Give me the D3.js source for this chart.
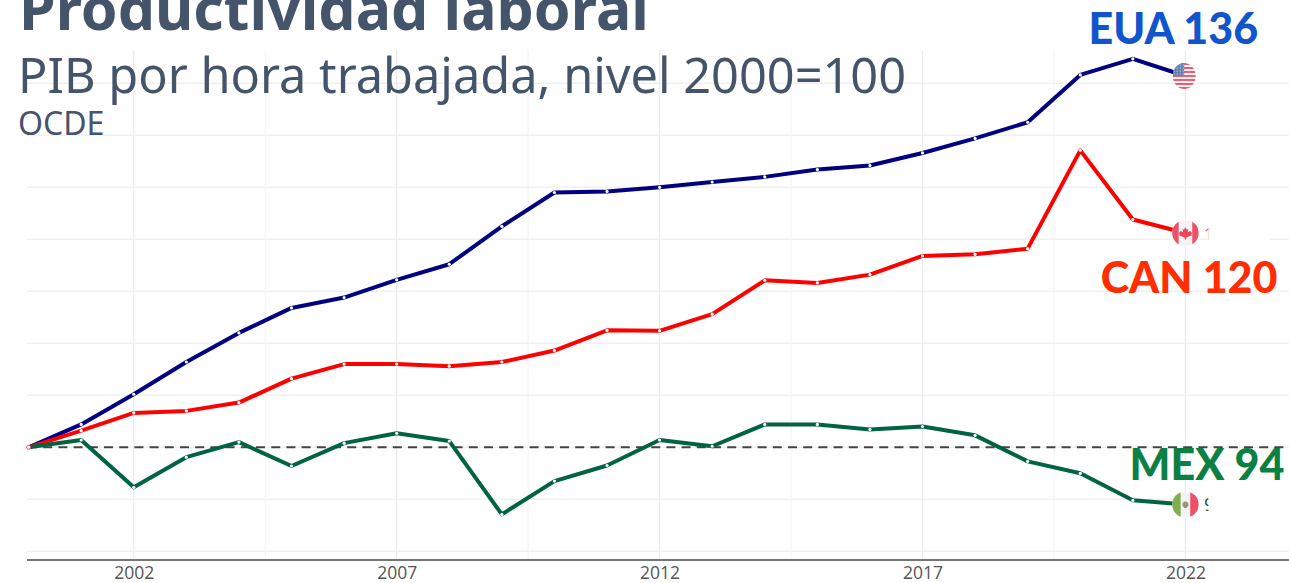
<!DOCTYPE html>
<html>
<head>
<meta charset="utf-8">
<script src="https://cdn.jsdelivr.net/npm/d3@7"></script>
<style>
html, body { margin: 0; padding: 0; background: #fff; overflow: hidden; }
svg { display: block; }
</style>
</head>
<body>
<div id="chart"></div>
<script>
// PIB por hora trabajada, 2000=100
var years = [2000,2001,2002,2003,2004,2005,2006,2007,2008,2009,2010,2011,2012,2013,2014,2015,2016,2017,2018,2019,2020,2021,2022];
var eua = [100,102.2,105.1,108.2,111.0,113.4,114.4,116.1,117.6,121.25,124.5,124.6,125.0,125.5,126.0,126.7,127.1,128.3,129.7,131.25,135.8,137.35,135.7];
var can = [100,101.6,103.3,103.5,104.3,106.6,108.0,108.0,107.8,108.2,109.3,111.25,111.2,112.8,116.05,115.8,116.6,118.4,118.55,119.1,128.55,121.9,120.6];
var mex = [100,100.7,96.15,99.05,100.5,98.2,100.4,101.35,100.6,93.55,96.75,98.25,100.7,100.1,102.2,102.2,101.7,102.0,101.15,98.65,97.5,94.9,94.5];
var xTickYears = [2002,2007,2012,2017,2022];
var xMinorYears = [2004.5,2009.5,2014.5,2019.5];
var yGridValues = [90,95,100,105,110,115,120,125,130,135];

var width = 1289, height = 583;
var svg = d3.select("#chart").append("svg").attr("width", width).attr("height", height);

var x = d3.scaleLinear().domain([2000, 2024]).range([28.6, 1290.6]);
var y = d3.scaleLinear().domain([89.135, 138.17]).range([560.3, 50.3]);

// grid
svg.append("g").selectAll("line").data(yGridValues).enter().append("line")
    .attr("x1", 27).attr("x2", width)
    .attr("y1", function (d) { return y(d); }).attr("y2", function (d) { return y(d); })
    .style("stroke", "#f0f0f0").style("stroke-width", 1.5);
svg.append("g").selectAll("line").data(xTickYears).enter().append("line")
    .attr("x1", function (d) { return x(d); }).attr("x2", function (d) { return x(d); })
    .attr("y1", 50).attr("y2", 560)
    .style("stroke", "#ebebeb").style("stroke-width", 1.3);
svg.append("g").selectAll("line").data(xMinorYears).enter().append("line")
    .attr("x1", function (d) { return x(d); }).attr("x2", function (d) { return x(d); })
    .attr("y1", 50).attr("y2", 560)
    .style("stroke", "#f3f3f3").style("stroke-width", 1);

// x axis
var axis = svg.append("g").attr("transform", "translate(0,560)")
    .call(d3.axisBottom(x).tickValues(xTickYears).tickFormat(d3.format("d")).tickSize(0).tickPadding(7));
axis.select(".domain").attr("d", "M27,0H" + width).style("stroke", "#757575").style("stroke-width", 1.8);
axis.selectAll("text").style("font-family", "'Open Sans'").style("font-size", "17.5px").style("fill", "#555");

// referencia 2000=100
svg.append("line")
    .attr("x1", 28).attr("x2", width).attr("y1", y(100)).attr("y2", y(100))
    .style("stroke", "#444").style("stroke-width", 2).style("stroke-dasharray", "9,6.2");

var series = [
    {name: "EUA", values: eua, color: "#000080"},
    {name: "CAN", values: can, color: "#ff0000"},
    {name: "MEX", values: mex, color: "#006341"}
];
var line = d3.line()
    .x(function (d, i) { return x(years[i]); })
    .y(function (d) { return y(d); });

series.forEach(function (s) {
    svg.append("path").datum(s.values)
        .attr("d", line)
        .style("fill", "none").style("stroke", s.color).style("stroke-width", 4)
        .style("stroke-linejoin", "round");
    svg.append("g").selectAll("circle").data(s.values.slice(0, -1)).enter().append("circle")
        .attr("cx", function (d, i) { return x(years[i]); })
        .attr("cy", function (d) { return y(d); })
        .attr("r", 1.6)
        .style("fill", "#fff");
});
svg.append("circle").attr("cx", x(2000)).attr("cy", y(100)).attr("r", 2)
    .style("fill", "#fff").style("stroke", "#f0506e").style("stroke-width", 1);

// etiquetas cortadas a la derecha de la bandera
function stub(value, txt, color, size, xRight) {
    var py = y(value);
    svg.append("text").attr("x", x(2022) + 18.5).attr("y", py + 6.5).text(txt)
        .style("font-family", "'Open Sans'").style("font-size", size + "px").style("fill", color);
    svg.append("rect").attr("x", x(2022) + 23).attr("y", py - 14).attr("width", xRight - x(2022) - 23).attr("height", 28).style("fill", "#fff");
}
stub(120.6, "1", "#ee5068", 17, 1270);
stub(94.5, "9", "#006341", 19, 1289);

// banderas
var defs = svg.append("defs");
function flag(id, value, dx, rx, ry, draw) {
    defs.append("clipPath").attr("id", id).append("ellipse").attr("rx", rx).attr("ry", ry);
    var g = svg.append("g")
        .attr("transform", "translate(" + (x(2022) + dx) + "," + y(value) + ")");
    var inner = g.append("g").attr("clip-path", "url(#" + id + ")");
    inner.append("rect").attr("x", -rx).attr("y", -ry).attr("width", 2 * rx).attr("height", 2 * ry).style("fill", "#f4f4f4");
    draw(inner, rx, ry);
}

flag("flag-usa", 135.7, -1.2, 11.5, 13, function (g, rx, ry) {
    d3.range(0, 7).forEach(function (i) {
        g.append("rect").attr("x", -rx).attr("y", -ry + i * 2 * ry / 6.5).attr("width", 2 * rx).attr("height", ry / 6.5)
            .style("fill", "#ee5f72");
    });
    g.append("rect").attr("x", -rx).attr("y", -ry).attr("width", rx).attr("height", ry).style("fill", "#5f83b4");
    d3.range(0, 4).forEach(function (i) {
        d3.range(0, 4).forEach(function (j) {
            g.append("circle").attr("cx", -rx + 1.5 + j * 3).attr("cy", -ry + 2 + i * 3).attr("r", 0.6).style("fill", "#dfe6f0");
        });
    });
});

flag("flag-can", 120.6, 0, 13.3, 13, function (g, rx, ry) {
    g.append("rect").attr("x", -rx).attr("y", -ry).attr("width", 6.5).attr("height", 2 * ry).style("fill", "#ee5068");
    g.append("rect").attr("x", rx - 6.5).attr("y", -ry).attr("width", 6.5).attr("height", 2 * ry).style("fill", "#ee5068");
    g.append("path")
        .attr("d", "M0,-6 L1.4,-3.4 L3,-4.2 L2.3,-0.8 L5,-2.2 L5.6,-0.6 L7,-0.8 L5.8,1.6 L6.6,2.2 L1,4.4 L0.5,6.4 L-0.5,6.4 L-1,4.4 L-6.6,2.2 L-5.8,1.6 L-7,-0.8 L-5.6,-0.6 L-5,-2.2 L-2.3,-0.8 L-3,-4.2 L-1.4,-3.4 Z")
        .style("fill", "#e8475f");
});

flag("flag-mex", 94.5, 0, 13.3, 13, function (g, rx, ry) {
    g.append("rect").attr("x", -rx).attr("y", -ry).attr("width", 8.5).attr("height", 2 * ry).style("fill", "#7fae4f");
    g.append("rect").attr("x", rx - 8.5).attr("y", -ry).attr("width", 8.5).attr("height", 2 * ry).style("fill", "#ee5068");
    g.append("circle").attr("r", 3).style("fill", "#a98f76");
    g.append("circle").attr("cy", 2).attr("r", 1.8).style("fill", "#7d9c78");
});

// etiquetas
var labelTexts = ["EUA 136", "CAN 120", "MEX 94"];
var labelColors = ["#1155cc", "#ff2d00", "#0b8043"];
var labelYears = [2021.77, 2022.07, 2022.41];
var labelValues = [138.75, 114.8, 96.875];
svg.append("g").selectAll("text").data(labelTexts).enter().append("text")
    .attr("x", function (d, i) { return x(labelYears[i]); })
    .attr("y", function (d, i) { return y(labelValues[i]); })
    .attr("text-anchor", "middle")
    .text(function (d) { return d; })
    .style("font-family", "Lato").style("font-weight", 900).style("font-size", "43px")
    .style("fill", function (d, i) { return labelColors[i]; });

// titulos
var titleColor = "#44546a";
svg.append("text").attr("x", 19).attr("y", 30).text("Productividad laboral")
    .style("font-family", "'Noto Sans'").style("font-weight", 700).style("font-size", "59px").style("fill", titleColor);
svg.append("text").attr("x", 18).attr("y", 93).text("PIB por hora trabajada, nivel 2000=100")
    .style("font-family", "'Noto Sans'").style("font-size", "48.7px").style("fill", titleColor);
svg.append("text").attr("x", 18).attr("y", 135).text("OCDE")
    .style("font-family", "'Noto Sans'").style("font-size", "32px").style("fill", titleColor);
</script>
</body>
</html>
